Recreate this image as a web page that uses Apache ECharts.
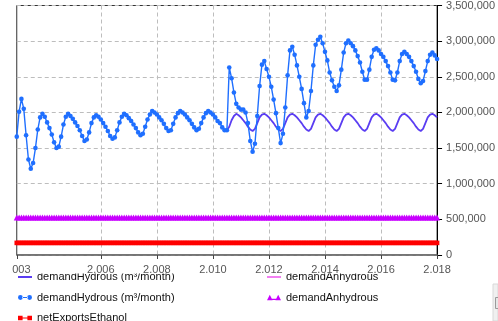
<!DOCTYPE html>
<html><head><meta charset="utf-8">
<script src="https://cdn.jsdelivr.net/npm/echarts@6/dist/echarts.min.js"></script>
<style>html,body{margin:0;padding:0;background:#fff;}#c{width:498px;height:321px;}</style>
</head><body><div id="c"></div>
<script>
// monthly categories Jan 2003 .. Jan 2018
const months = [];
for (let y = 2003; y <= 2018; y++) {
  for (let m = 1; m <= 12; m++) {
    if (y === 2018 && m > 1) break;
    months.push(y + '-' + String(m).padStart(2, '0'));
  }
}
const tickMonths = ['2003-01','2006-01','2008-01','2010-01','2012-01','2014-01','2016-01','2018-01'];
const tickLabels = ['2.003','2.006','2.008','2.010','2.012','2.014','2.016','2.018'];
const gridMonths = ['2006-01','2008-01','2010-01','2012-01','2014-01','2016-01'];

// demandHydrous data (m3/month), monthly
const demandHydrousData = [
1660000,2010000,2190000,2050000,1680000,1340000,1210000,1290000,1500000,1760000,1930000,1980000,
1940000,1860000,1780000,1690000,1580000,1500000,1520000,1660000,1830000,1940000,1980000,1950000,
1910000,1860000,1810000,1750000,1670000,1600000,1620000,1720000,1850000,1930000,1960000,1940000,
1900000,1850000,1800000,1740000,1670000,1630000,1650000,1750000,1860000,1940000,1980000,1960000,
1920000,1880000,1830000,1780000,1720000,1680000,1700000,1800000,1900000,1970000,2020000,2000000,
1970000,1930000,1890000,1840000,1780000,1740000,1750000,1840000,1930000,1990000,2020000,2000000,
1970000,1930000,1890000,1840000,1790000,1750000,1770000,1850000,1930000,1990000,2020000,2000000,
1970000,1930000,1880000,1850000,1790000,1750000,1750000,2630000,2480000,2280000,2120000,2070000,
2040000,2040000,2000000,1850000,1600000,1450000,1560000,1950000,2370000,2670000,2720000,2610000,
2500000,2360000,2180000,1990000,1780000,1570000,1700000,2070000,2520000,2870000,2920000,2810000,
2660000,2500000,2330000,2130000,1930000,2020000,2300000,2660000,2950000,3020000,3060000,2970000,
2850000,2730000,2560000,2450000,2360000,2300000,2380000,2600000,2840000,2970000,3010000,2970000,
2930000,2870000,2790000,2700000,2570000,2460000,2460000,2600000,2780000,2880000,2900000,2870000,
2820000,2780000,2720000,2650000,2560000,2460000,2450000,2560000,2720000,2820000,2850000,2820000,
2780000,2720000,2650000,2570000,2470000,2410000,2440000,2580000,2720000,2810000,2840000,2800000,
2750000
];

// demandHydrous model line, visible from Jun 2010
const hydModelStart = '2010-06';
const demandHydrousModel = [
1750000,1750000,1800000,1890000,1950000,1980000,1960000,
1930000,1890000,1850000,1800000,1760000,1740000,1770000,1850000,1930000,1970000,1980000,1960000,
1930000,1890000,1850000,1800000,1760000,1740000,1770000,1850000,1930000,1970000,1980000,1960000,
1930000,1890000,1850000,1800000,1760000,1740000,1770000,1850000,1930000,1970000,1980000,1960000,
1930000,1890000,1850000,1800000,1760000,1740000,1770000,1850000,1930000,1970000,1980000,1960000,
1930000,1890000,1850000,1800000,1760000,1740000,1770000,1850000,1930000,1970000,1980000,1960000,
1930000,1890000,1850000,1800000,1760000,1740000,1770000,1850000,1930000,1970000,1980000,1960000,
1930000,1890000,1850000,1800000,1760000,1740000,1770000,1850000,1930000,1970000,1980000,1960000,
1930000
];

const demandAnhydrousModel = [
525000,525000,525000,525000,525000,525000,525000,525000,525000,525000,525000,525000,
525000,525000,525000,525000,525000,525000,525000,525000,525000,525000,525000,525000,
525000,525000,525000,525000,525000,525000,525000,525000,525000,525000,525000,525000,
525000,525000,525000,525000,525000,525000,525000,525000,525000,525000,525000,525000,
525000,525000,525000,525000,525000,525000,525000,525000,525000,525000,525000,525000,
525000,525000,525000,525000,525000,525000,525000,525000,525000,525000,525000,525000,
525000,525000,525000,525000,525000,525000,525000,525000,525000,525000,525000,525000,
525000,525000,525000,525000,525000,525000,525000,525000,525000,525000,525000,525000,
525000,525000,525000,525000,525000,525000,525000,525000,525000,525000,525000,525000,
525000,525000,525000,525000,525000,525000,525000,525000,525000,525000,525000,525000,
525000,525000,525000,525000,525000,525000,525000,525000,525000,525000,525000,525000,
525000,525000,525000,525000,525000,525000,525000,525000,525000,525000,525000,525000,
525000,525000,525000,525000,525000,525000,525000,525000,525000,525000,525000,525000,
525000,525000,525000,525000,525000,525000,525000,525000,525000,525000,525000,525000,
525000,525000,525000,525000,525000,525000,525000,525000,525000,525000,525000,525000,
525000
];
const demandAnhydrousData = [
525000,525000,525000,525000,525000,525000,525000,525000,525000,525000,525000,525000,
525000,525000,525000,525000,525000,525000,525000,525000,525000,525000,525000,525000,
525000,525000,525000,525000,525000,525000,525000,525000,525000,525000,525000,525000,
525000,525000,525000,525000,525000,525000,525000,525000,525000,525000,525000,525000,
525000,525000,525000,525000,525000,525000,525000,525000,525000,525000,525000,525000,
525000,525000,525000,525000,525000,525000,525000,525000,525000,525000,525000,525000,
525000,525000,525000,525000,525000,525000,525000,525000,525000,525000,525000,525000,
525000,525000,525000,525000,525000,525000,525000,525000,525000,525000,525000,525000,
525000,525000,525000,525000,525000,525000,525000,525000,525000,525000,525000,525000,
525000,525000,525000,525000,525000,525000,525000,525000,525000,525000,525000,525000,
525000,525000,525000,525000,525000,525000,525000,525000,525000,525000,525000,525000,
525000,525000,525000,525000,525000,525000,525000,525000,525000,525000,525000,525000,
525000,525000,525000,525000,525000,525000,525000,525000,525000,525000,525000,525000,
525000,525000,525000,525000,525000,525000,525000,525000,525000,525000,525000,525000,
525000,525000,525000,525000,525000,525000,525000,525000,525000,525000,525000,525000,
525000
];
const netExportsEthanol = [
170000,170000,170000,170000,170000,170000,170000,170000,170000,170000,170000,170000,
170000,170000,170000,170000,170000,170000,170000,170000,170000,170000,170000,170000,
170000,170000,170000,170000,170000,170000,170000,170000,170000,170000,170000,170000,
170000,170000,170000,170000,170000,170000,170000,170000,170000,170000,170000,170000,
170000,170000,170000,170000,170000,170000,170000,170000,170000,170000,170000,170000,
170000,170000,170000,170000,170000,170000,170000,170000,170000,170000,170000,170000,
170000,170000,170000,170000,170000,170000,170000,170000,170000,170000,170000,170000,
170000,170000,170000,170000,170000,170000,170000,170000,170000,170000,170000,170000,
170000,170000,170000,170000,170000,170000,170000,170000,170000,170000,170000,170000,
170000,170000,170000,170000,170000,170000,170000,170000,170000,170000,170000,170000,
170000,170000,170000,170000,170000,170000,170000,170000,170000,170000,170000,170000,
170000,170000,170000,170000,170000,170000,170000,170000,170000,170000,170000,170000,
170000,170000,170000,170000,170000,170000,170000,170000,170000,170000,170000,170000,
170000,170000,170000,170000,170000,170000,170000,170000,170000,170000,170000,170000,
170000,170000,170000,170000,170000,170000,170000,170000,170000,170000,170000,170000,
170000
];

const legendNames = {
  hydModel: 'demandHydrous (m³/month)',
  anhModel: 'demandAnhydrous',
  hydData: 'demandHydrous (m³/month)',
  anhData: 'demandAnhydrous',
  netExp: 'netExportsEthanol'
};
const C = { hydModel: '#5a3df2', anhModel: '#f27ff2', hydData: '#1f6fff', anhData: '#c800ff', netExp: '#ff0000' };

const modelStartIdx = months.indexOf(hydModelStart);
const hydModelPairs = demandHydrousModel.map((v, k) => [months[modelStartIdx + k], v]);

const FONT = 'Liberation Sans, Arial, sans-serif';
const ICON_LINE = 'path://M0,2h14v2h-14z M0,0h0.01v6h-0.01z';
const ICON_DOT = 'path://M0,3a2.4,2.4 0 1,0 4.8,0a2.4,2.4 0 1,0 -4.8,0z M9.2,3a2.4,2.4 0 1,0 4.8,0a2.4,2.4 0 1,0 -4.8,0z M4,2.4h6v1.2h-6z';
const ICON_TRI = 'path://M0,6L2.8,0.6L5.6,6z M8.4,6L11.2,0.6L14,6z M5,4.6h4v1.2h-4z';
const ICON_SQ = 'path://M0,1h4.6v4.6h-4.6z M9.4,1h4.6v4.6h-4.6z M4,2.7h6v1.2h-6z';

const legendCommon = {
  orient: 'vertical', top: 270, height: 90, padding: 0, itemWidth: 14, itemHeight: 6, itemGap: 6.5,
  selectedMode: false, z: 4,
  formatter: n => legendNames[n],
  textStyle: { fontFamily: FONT, fontSize: 11, color: '#111', lineHeight: 14 }
};

const chart = echarts.init(document.getElementById('c'), null, { renderer: 'canvas' });
chart.setOption({
  animation: false,
  backgroundColor: '#fff',
  grid: { left: 14, right: 60, top: 5, bottom: 66, show: true, borderColor: '#333', borderWidth: 1, containLabel: false },
  legend: [
    Object.assign({}, legendCommon, { left: 18, width: 240, data: [
      { name: 'hydModel', icon: ICON_LINE, itemStyle: { color: C.hydModel, borderWidth: 0 } },
      { name: 'hydData', icon: ICON_DOT, itemStyle: { color: C.hydData, borderWidth: 0 } },
      { name: 'netExp', icon: ICON_SQ, itemStyle: { color: C.netExp, borderWidth: 0 } }
    ] }),
    Object.assign({}, legendCommon, { left: 267, width: 200, data: [
      { name: 'anhModel', icon: ICON_LINE, itemStyle: { color: C.anhModel, borderWidth: 0 } },
      { name: 'anhData', icon: ICON_TRI, itemStyle: { color: C.anhData, borderWidth: 0 } }
    ] })
  ],
  xAxis: [
    {
      type: 'category', data: months, boundaryGap: false, z: 0,
      axisLine: { show: true, lineStyle: { color: '#6a6a6a', width: 1.5 } },
      axisTick: { show: true, length: 4, interval: (i, v) => tickMonths.includes(v), lineStyle: { color: '#444' } },
      axisLabel: { show: false },
      splitLine: { show: true, interval: (i, v) => gridMonths.includes(v), lineStyle: { color: '#bdbdbd', type: [4, 3], width: 1 } }
    },
    {
      type: 'category', data: months, boundaryGap: false, z: 10, position: 'bottom',
      axisLine: { show: false }, axisTick: { show: false }, splitLine: { show: false },
      axisLabel: {
        show: true, margin: 9, interval: (i, v) => tickMonths.includes(v),
        formatter: v => tickLabels[tickMonths.indexOf(v)],
        fontFamily: FONT, fontSize: 11, color: '#555'
      }
    }
  ],
  yAxis: {
    type: 'value', position: 'right', min: 0, max: 3500000, interval: 500000,
    axisLine: { show: true, lineStyle: { color: '#000', width: 1 } },
    axisTick: { show: true, length: 5, lineStyle: { color: '#000' } },
    axisLabel: { margin: 9, fontFamily: FONT, fontSize: 11, color: '#555',
      formatter: v => String(v).replace(/\B(?=(\d{3})+(?!\d))/g, ',') },
    splitLine: { show: true, lineStyle: { color: '#bdbdbd', type: [4, 3], width: 1 } }
  },
  series: [
    { name: 'anhModel', type: 'line', data: demandAnhydrousModel, symbol: 'none',
      lineStyle: { color: C.anhModel, width: 2 }, itemStyle: { color: C.anhModel }, z: 2 },
    { name: 'anhData', type: 'line', data: demandAnhydrousData, symbol: 'triangle', symbolSize: 6, showSymbol: true, showAllSymbol: true,
      lineStyle: { color: C.anhData, width: 1 }, itemStyle: { color: C.anhData }, z: 3 },
    { name: 'netExp', type: 'line', data: netExportsEthanol, symbol: 'rect', symbolSize: 4.6, showSymbol: true, showAllSymbol: true,
      lineStyle: { color: C.netExp, width: 2 }, itemStyle: { color: C.netExp }, z: 3 },
    { name: 'hydModel', type: 'line', data: hydModelPairs, symbol: 'none', connectNulls: false,
      lineStyle: { color: C.hydModel, width: 1.8 }, itemStyle: { color: C.hydModel }, z: 4 },
    { name: 'hydData', type: 'line', data: demandHydrousData, symbol: 'circle', symbolSize: 4.6, showSymbol: true, showAllSymbol: true,
      lineStyle: { color: C.hydData, width: 1.4 }, itemStyle: { color: C.hydData }, z: 5 }
  ],
  graphic: [
    { type: 'rect', z: 5, silent: true, shape: { x: 0, y: 262, width: 492, height: 11.5 }, style: { fill: '#fff' } },
    { type: 'rect', z: 20, silent: true, shape: { x: 0, y: 258, width: 11.5, height: 15 }, style: { fill: '#fff' } },
    { type: 'rect', z: 20, silent: true, shape: { x: 493, y: 284, width: 5, height: 37 }, style: { fill: '#f0f0f0', stroke: '#d8d8d8', lineWidth: 1 } },
    { type: 'rect', z: 21, silent: true, shape: { x: 495.5, y: 297.5, width: 4, height: 11 }, style: { fill: '#e6e6e6', stroke: '#9a9a9a', lineWidth: 1 } }
  ]
});
</script>
</body></html>
